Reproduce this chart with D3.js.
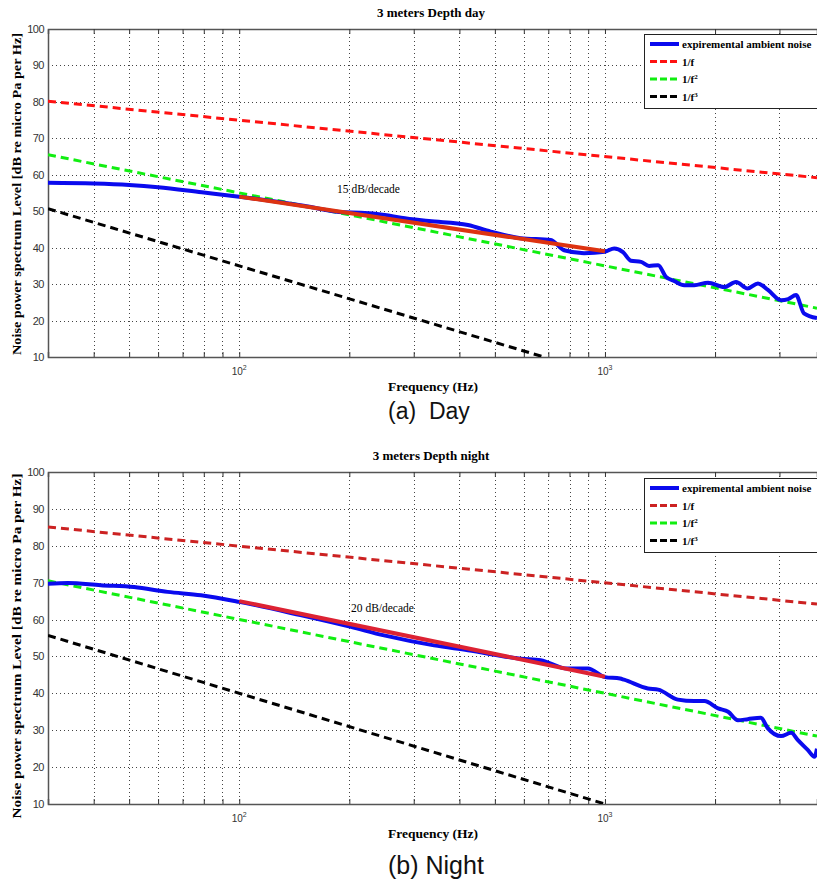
<!DOCTYPE html>
<html><head><meta charset="utf-8">
<script src="https://cdn.jsdelivr.net/npm/d3@7"></script>
<style>
html,body{margin:0;padding:0;background:#fff;overflow:hidden;}
</style></head>
<body>
<script>
// ---------- DATA ----------
const xTickValues = [40,50,60,70,80,90,100,200,300,400,500,600,700,800,900,1000,2000,3000];
const xLabelTicks = [100, 1000];
const yTickValues = [10,20,30,40,50,60,70,80,90,100];
const legendLabels = ["expiremental ambient noise", "1/f", "1/f2", "1/f3"];

// Day
const dayFreq  = [30,40,50,60,79,100,150,193,215,250,277,330,422,487,588,711,773,877,1000,1060,1120,1178,1255,1320,1398,1468,1550,1646,1755,1914,2119,2282,2457,2620,2790,3030,3170,3330,3500,3800];
const dayLevel = [57.8,57.6,57.2,56.6,55.2,54.0,51.5,49.7,49.6,49.0,48.2,47.3,46.2,44.4,42.6,42.1,39.3,38.5,38.9,39.8,38.8,36.4,36.1,35.0,35.2,32.0,30.8,29.7,29.7,30.4,29.2,30.6,28.8,30.2,28.4,25.6,25.9,27.0,22.0,20.7];
const dayRefFreq = [30, 3800];
const dayInvF  = [80.2, 59.2];
const dayInvF2 = [65.5, 23.4];
const dayInvF3Freq = [30, 681];
const dayInvF3 = [50.7, 10];
const dayFitFreq = [100, 1000];
const dayFit = [54.0, 39.0];

// Night
const nightFreq  = [30,34,41.8,51.6,63.7,78.6,100,147,202,249,341,422,588,667,789,898,1000,1100,1127,1310,1398,1583,1755,1870,2040,2172,2310,2457,2667,2790,3030,3230,3370,3590,3740,3800];
const nightLevel = [69.7,69.9,69.3,68.8,67.5,66.6,64.8,61.2,58.0,55.7,53.0,51.7,49.4,49.0,46.7,46.7,44.4,44.0,43.7,41.3,41.0,38.3,37.9,37.9,35.9,35.0,32.7,33.0,33.4,30.5,28.4,29.3,27.3,24.6,22.8,25.0];
const nightRefFreq = [30, 3800];
const nightInvF  = [85.1, 64.2];
const nightInvF2 = [70.5, 28.4];
const nightInvF3Freq = [30, 1000];
const nightInvF3 = [55.7, 10];
const nightFitFreq = [100, 1000];
const nightFit = [65.0, 44.5];

// ---------- DRAW ----------
const W = 817, H = 881;
const svg = d3.select("body").append("svg").attr("width", W).attr("height", H)
  .style("font-family","'Liberation Serif', serif");

function drawChart(cfg) {
  const g = svg.append("g");
  const x = d3.scaleLog().domain([30, 3800]).range([48, 817]);
  const y = d3.scaleLinear().domain([10, 100]).range([cfg.bottom, cfg.top]);
  const clipId = "clip" + cfg.id;
  svg.append("clipPath").attr("id", clipId).append("rect")
    .attr("x", 48).attr("y", cfg.top).attr("width", 817-48).attr("height", cfg.bottom-cfg.top);

  // grid
  g.append("g").selectAll("line").data(yTickValues.filter(v=>v>10 && v<100)).join("line")
    .attr("x1", 48).attr("x2", 817).attr("y1", d=>Math.round(y(d))+0.5).attr("y2", d=>Math.round(y(d))+0.5)
    .attr("stroke", "#444").attr("stroke-width", 1).attr("stroke-dasharray", "1,3");
  g.append("g").selectAll("line").data(xTickValues).join("line")
    .attr("x1", d=>Math.round(x(d))+0.5).attr("x2", d=>Math.round(x(d))+0.5)
    .attr("y1", cfg.top).attr("y2", cfg.bottom)
    .attr("stroke", "#444").attr("stroke-width", 1).attr("stroke-dasharray", "1,3");

  // axes
  const yAxis = d3.axisLeft(y).tickValues(yTickValues).tickSize(0).tickPadding(4);
  const ya = g.append("g").attr("transform", "translate(48,0)").call(yAxis);
  ya.select(".domain").attr("stroke", "#555").attr("stroke-width", 1.5);
  ya.selectAll("text").attr("font-family", "'Liberation Sans', Arial, sans-serif")
    .attr("font-size", 11).attr("fill", "#333").attr("letter-spacing", "-0.5");

  const xAxis = d3.axisBottom(x).tickValues(xTickValues).tickSize(-5).tickFormat("");
  const xa = g.append("g").attr("transform", `translate(0,${cfg.bottom})`).call(xAxis);
  xa.select(".domain").attr("stroke", "#555").attr("stroke-width", 1.5);
  xa.selectAll(".tick line").attr("stroke", "#333");
  const xTop = d3.axisTop(x).tickValues(xTickValues).tickSize(-5).tickFormat("");
  const xt = g.append("g").attr("transform", `translate(0,${cfg.top})`).call(xTop);
  xt.select(".domain").attr("stroke", "#555").attr("stroke-width", 1.5);
  xt.selectAll(".tick line").attr("stroke", "#333");

  // x power labels
  xLabelTicks.forEach(v => {
    const t = g.append("text").attr("x", x(v)).attr("y", cfg.bottom + 18)
      .attr("text-anchor", "middle")
      .attr("font-family", "'Liberation Sans', Arial, sans-serif").attr("font-size", 10).attr("fill", "#333");
    t.append("tspan").text("10");
    t.append("tspan").attr("dy", -5).attr("font-size", 7).text(String(Math.round(Math.log10(v))));
  });

  // lines
  const plot = g.append("g").attr("clip-path", `url(#${clipId})`);
  const line = d3.line().x(d=>x(d[0])).y(d=>y(d[1]));
  const dash = "8,5";
  plot.append("path").datum(d3.zip(cfg.refFreq, cfg.invF)).attr("d", line)
    .attr("fill","none").attr("stroke", cfg.redDash).attr("stroke-width", 3).attr("stroke-dasharray", dash);
  plot.append("path").datum(d3.zip(cfg.refFreq, cfg.invF2)).attr("d", line)
    .attr("fill","none").attr("stroke", "#11ee11").attr("stroke-width", 3).attr("stroke-dasharray", dash);
  plot.append("path").datum(d3.zip(cfg.invF3Freq, cfg.invF3)).attr("d", line)
    .attr("fill","none").attr("stroke", "#000").attr("stroke-width", 3).attr("stroke-dasharray", dash);
  plot.append("path").datum(d3.zip(cfg.freq, cfg.level)).attr("d", line.curve(d3.curveMonotoneX))
    .attr("fill","none").attr("stroke", "#0a0aee").attr("stroke-width", 4).attr("stroke-linejoin","round");
  plot.append("path").datum(d3.zip(cfg.fitFreq, cfg.fit)).attr("d", d3.line().x(d=>x(d[0])).y(d=>y(d[1])))
    .attr("fill","none").attr("stroke", cfg.fitColor).attr("stroke-width", 4);

  // annotation
  g.append("text").attr("x", cfg.annX).attr("y", cfg.annY).attr("font-size", 11.5).text(cfg.ann);

  // title
  g.append("text").attr("x", 431).attr("y", cfg.top - 12).attr("text-anchor","middle")
    .attr("font-size", 13).attr("font-weight","bold").text(cfg.title);
  // x label
  g.append("text").attr("x", 433).attr("y", cfg.bottom + 34).attr("text-anchor","middle")
    .attr("font-size", 13.5).attr("font-weight","bold").text("Frequency (Hz)");
  // y label
  const cy = (cfg.top + cfg.bottom)/2 + cfg.ylabShift;
  g.append("text").attr("transform", `translate(${cfg.ylabX},${cy}) rotate(-90)`)
    .attr("text-anchor","middle").attr("font-size", cfg.ylabSize).attr("font-weight","bold")
    .attr("textLength", cfg.ylabLen).attr("lengthAdjust","spacingAndGlyphs")
    .text("Noise power spectrum Level [dB re micro Pa per Hz]");
  // caption
  g.append("text").attr("x", 388).attr("y", cfg.capY)
    .attr("font-family","'Liberation Sans', Arial, sans-serif").attr("font-size", cfg.capSize).attr("fill","#111")
    .attr("xml:space","preserve").text(cfg.caption);

  // legend
  const lg = g.append("g");
  lg.append("rect").attr("x", 644.5).attr("y", cfg.legTop + 0.5).attr("width", 200).attr("height", 74)
    .attr("fill", "#fff").attr("stroke", "#222").attr("stroke-width", 1);
  const colors = ["#0a0aee", cfg.redDash, "#11ee11", "#000"];
  legendLabels.forEach((lab, i) => {
    const yy = cfg.legTop + 10 + i * 17.5;
    lg.append("line").attr("x1", 650).attr("x2", 679).attr("y1", yy).attr("y2", yy)
      .attr("stroke", colors[i]).attr("stroke-width", i === 0 ? 4 : 3)
      .attr("stroke-dasharray", i === 0 ? null : "7,3");
    const t = lg.append("text").attr("x", 682).attr("y", yy + 4).attr("font-size", 11).attr("font-weight","bold");
    if (i < 2) t.text(lab);
    else { t.append("tspan").text("1/f"); t.append("tspan").attr("dy",-4).attr("font-size",7).text(lab.slice(3)); }
  });
}

drawChart({id:"a", top:29, bottom:357, title:"3 meters Depth day",
  freq:dayFreq, level:dayLevel, refFreq:dayRefFreq, invF:dayInvF, invF2:dayInvF2,
  invF3Freq:dayInvF3Freq, invF3:dayInvF3, fitFreq:dayFitFreq, fit:dayFit,
  redDash:"#ff1111", fitColor:"#dd3311", ann:"15 dB/decade", annX:337, annY:193,
  ylabX:21, ylabShift:1, ylabSize:12, ylabLen:322, legTop:34, caption:"(a)  Day", capY:419, capSize:23});

drawChart({id:"b", top:472, bottom:804, title:"3 meters Depth night",
  freq:nightFreq, level:nightLevel, refFreq:nightRefFreq, invF:nightInvF, invF2:nightInvF2,
  invF3Freq:nightInvF3Freq, invF3:nightInvF3, fitFreq:nightFitFreq, fit:nightFit,
  redDash:"#cc2222", fitColor:"#dd2233", ann:"20 dB/decade", annX:351, annY:612,
  ylabX:21, ylabShift:8, ylabSize:13, ylabLen:345, legTop:478, caption:"(b) Night", capY:874, capSize:25});
</script>
</body></html>
